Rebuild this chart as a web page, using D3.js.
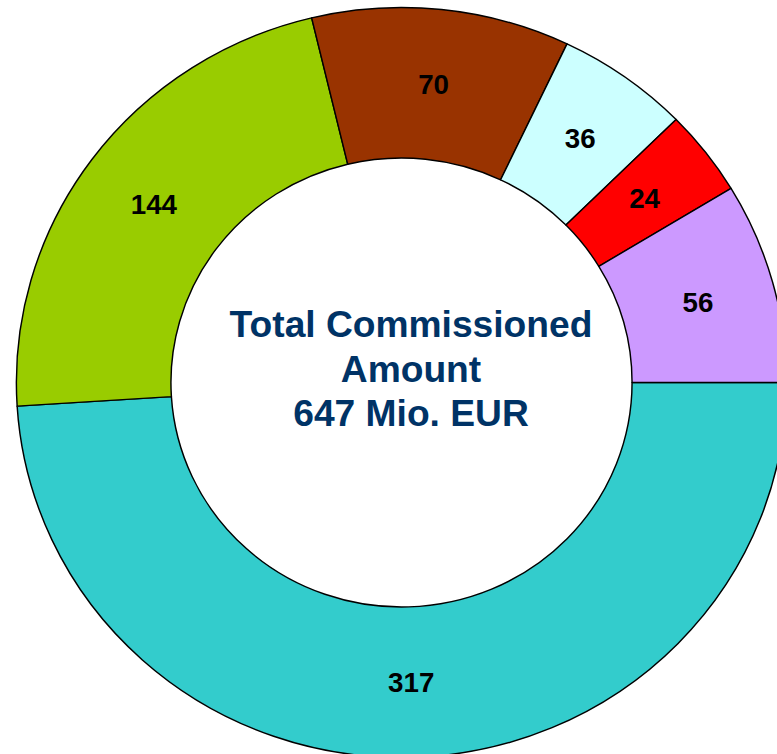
<!DOCTYPE html>
<html>
<head>
<meta charset="utf-8">
<script src="https://cdn.jsdelivr.net/npm/d3@7"></script>
<style>
  html, body { margin: 0; padding: 0; background: #fff; }
  svg { display: block; }
</style>
</head>
<body>
<div id="viz"></div>
<script>
// segment values, clockwise from 3 o'clock (Mio. EUR)
const values = [317, 144, 70, 36, 24, 56]
const colors = ['#33CCCC', '#99CC00', '#993300', '#CCFFFF', '#FF0000', '#CC99FF']
const centerLines = ['Total Commissioned', 'Amount', '647 Mio. EUR']

const width = 777, height = 754
const cx = 401.5, cy = 382.5
const outerR = 375, innerR = 224.5
const stretchX = 1.027   // the original ring is slightly wider than tall

const svg = d3.select('#viz').append('svg')
    .attr('width', width)
    .attr('height', height)

const g = svg.append('g')
    .attr('transform', `translate(${cx},${cy}) scale(${stretchX},1)`)

const pie = d3.pie()
    .sort(null)
    .value(d => d)
    .startAngle(Math.PI / 2)
    .endAngle(Math.PI / 2 + 2 * Math.PI)

const arc = d3.arc().innerRadius(innerR).outerRadius(outerR)

const arcs = pie(values)

g.selectAll('path.slice')
    .data(arcs)
    .enter()
    .append('path')
    .attr('class', 'slice')
    .attr('d', arc)
    .attr('fill', (d, i) => colors[i])
    .attr('stroke', '#000')
    .attr('stroke-width', 1.4)
    .attr('stroke-linejoin', 'round')

let labelSize = 27
g.selectAll('text.val')
    .data(arcs)
    .enter()
    .append('text')
    .attr('class', 'val')
    .attr('x', d => arc.centroid(d)[0])
    .attr('y', d => arc.centroid(d)[1] + labelSize * 0.358)
    .attr('text-anchor', 'middle')
    .attr('font-family', '"Liberation Sans", Arial, sans-serif')
    .attr('font-weight', 'bold')
    .attr('font-size', labelSize)
    .attr('fill', '#000')
    .text(d => d.data)

// centre caption
let captionSize = 36.2
g.append('text')
    .attr('text-anchor', 'middle')
    .attr('font-family', '"Liberation Sans", Arial, sans-serif')
    .attr('font-weight', 'bold')
    .attr('font-size', captionSize)
    .attr('fill', '#003366')
    .selectAll('tspan')
    .data(centerLines)
    .enter()
    .append('tspan')
    .attr('x', 9.5 / stretchX)
    .attr('y', (d, i) => -45.5 + i * 44.5)
    .text(d => d)
</script>
</body>
</html>
